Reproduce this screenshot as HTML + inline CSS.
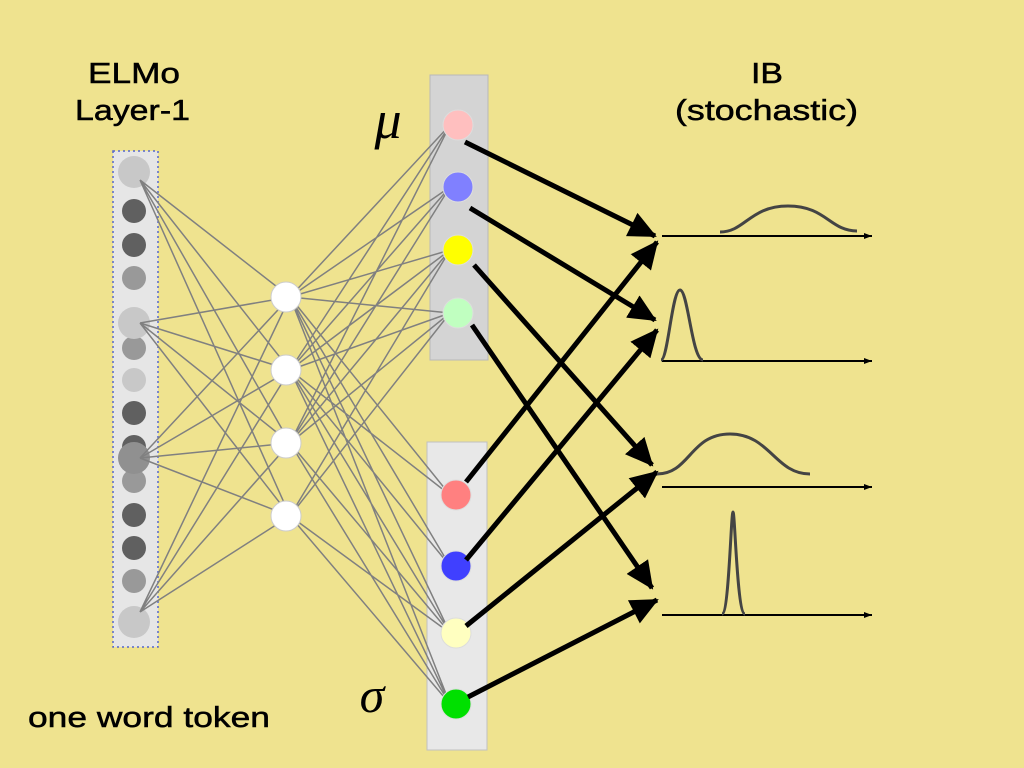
<!DOCTYPE html>
<html><head><style>body{margin:0;background:#efe38f}svg{display:block}</style></head><body>
<svg width="1024" height="768" viewBox="0 0 1024 768" xmlns="http://www.w3.org/2000/svg">
<rect width="1024" height="768" fill="#efe38f"/>
<defs>
<marker id="big" markerWidth="30" markerHeight="30" refX="26" refY="13" orient="auto" markerUnits="userSpaceOnUse" viewBox="0 0 30 26"><path d="M0,0 L28,13 L0,26 z" fill="#000"/></marker>
<marker id="sm" markerWidth="8" markerHeight="6" refX="8" refY="3" orient="auto" markerUnits="userSpaceOnUse"><path d="M0,0 L8,3 L0,6 z" fill="#000"/></marker>
</defs>
<g font-family="Liberation Sans, sans-serif" font-size="29" fill="#000" stroke="#000" stroke-width="0.5" lengthAdjust="spacingAndGlyphs">
<text x="88" y="83" textLength="92" lengthAdjust="spacingAndGlyphs">ELMo</text>
<text x="75" y="120" textLength="115" lengthAdjust="spacingAndGlyphs">Layer-1</text>
<text x="751" y="83" textLength="32" lengthAdjust="spacingAndGlyphs">IB</text>
<text x="675" y="120" textLength="183" lengthAdjust="spacingAndGlyphs">(stochastic)</text>
<text x="28" y="727" textLength="242" lengthAdjust="spacingAndGlyphs">one word token</text>
</g>
<text x="388" y="138" font-family="Liberation Serif, serif" font-style="italic" font-size="54" text-anchor="middle">μ</text>
<text x="372" y="712" font-family="Liberation Serif, serif" font-style="italic" font-size="50" text-anchor="middle">σ</text>
<rect x="113" y="151" width="45" height="496" fill="#e6e6e6" stroke="#5566cc" stroke-width="1.5" stroke-dasharray="2,3"/>
<rect x="430" y="75" width="58" height="285" fill="#d4d4d4" stroke="#b8b8b8"/>
<rect x="427" y="442" width="60" height="308" fill="#e8e8e8" stroke="#c0c0c0"/>
<g>
<circle cx="134" cy="211" r="12" fill="#606060"/>
<circle cx="134" cy="245" r="12" fill="#606060"/>
<circle cx="134" cy="278" r="12" fill="#999"/>
<circle cx="134" cy="348" r="12" fill="#999"/>
<circle cx="134" cy="380" r="12" fill="#c8c8c8"/>
<circle cx="134" cy="413" r="12" fill="#606060"/>
<circle cx="134" cy="447" r="12" fill="#606060"/>
<circle cx="134" cy="481" r="12" fill="#999"/>
<circle cx="134" cy="515" r="12" fill="#606060"/>
<circle cx="134" cy="548" r="12" fill="#606060"/>
<circle cx="134" cy="581" r="12" fill="#999"/>
<circle cx="134" cy="172" r="16" fill="#c8c8c8"/>
<circle cx="134" cy="323" r="16" fill="#c8c8c8"/>
<circle cx="134" cy="458" r="16" fill="#909090"/>
<circle cx="134" cy="622" r="16" fill="#c8c8c8"/>
</g>
<g stroke="#808080" stroke-width="1.5" fill="none">
<path d="M140,180L290,297M140,180L290,370M140,180L290,443M140,180L290,516
M140,323L290,297M140,323L290,370M140,323L290,443M140,323L290,516
M140,458L290,297M140,458L290,370M140,458L290,443M140,458L290,516
M140,612L290,297M140,612L290,370M140,612L290,443M140,612L290,516"/>
<path d="M290,297L450,125M290,297L450,187M290,297L450,250M290,297L450,313M290,297L450,495M290,297L450,566M290,297L450,633M290,297L450,704
M290,370L450,125M290,370L450,187M290,370L450,250M290,370L450,313M290,370L450,495M290,370L450,566M290,370L450,633M290,370L450,704
M290,443L450,125M290,443L450,187M290,443L450,250M290,443L450,313M290,443L450,633M290,443L450,704
M290,516L450,250M290,516L450,313M290,516L450,633M290,516L450,704"/>
</g>
<g fill="#fff" stroke="#ccc">
<circle cx="286" cy="297" r="15"/><circle cx="286" cy="370" r="15"/><circle cx="286" cy="443" r="15"/><circle cx="286" cy="516" r="15"/>
</g>
<g stroke="#ddd">
<circle cx="458" cy="125" r="15" fill="#ffbfbf"/>
<circle cx="458" cy="187" r="15" fill="#8080ff"/>
<circle cx="458" cy="250" r="15" fill="#ffff00"/>
<circle cx="458" cy="313" r="15" fill="#c0ffc0"/>
<circle cx="456" cy="495" r="15" fill="#ff8080"/>
<circle cx="456" cy="566" r="15" fill="#4040ff"/>
<circle cx="456" cy="633" r="15" fill="#ffffc0"/>
<circle cx="456" cy="704" r="15" fill="#00e000"/>
</g>
<g stroke="#000" stroke-width="5" fill="none" marker-end="url(#big)">
<path d="M465,142L655,236"/>
<path d="M470,208L655,320"/>
<path d="M474,265L652,465"/>
<path d="M472,325L652,588"/>
<path d="M466,482L657,242"/>
<path d="M466,560L657,330"/>
<path d="M466,626L657,472"/>
<path d="M468,697L657,600"/>
</g>
<g stroke="#000" stroke-width="2" marker-end="url(#sm)">
<line x1="662" y1="236" x2="872" y2="236"/>
<line x1="662" y1="361" x2="872" y2="361"/>
<line x1="662" y1="487" x2="872" y2="487"/>
<line x1="662" y1="615" x2="872" y2="615"/>
</g>
<g stroke="#444" stroke-width="3" fill="none">
<path d="M720,232 C745,232 750,206 788,206 C826,206 830,231 857,231"/>
<path d="M661,360 C668,360 672,290 680,290 C688,290 692,360 703,360"/>
<path d="M657,474 C690,474 690,434 730,434 C770,434 775,474 810,474"/>
<path d="M722,614 C729,614 731,512 733,512 C735,512 737,614 745,614"/>
</g>
</svg>
</body></html>
